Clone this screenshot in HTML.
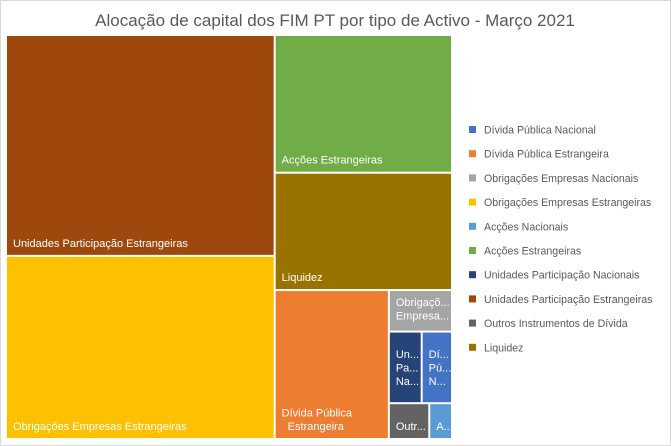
<!DOCTYPE html>
<html><head><meta charset="utf-8"><style>
body{margin:0;background:#fff}
svg{display:block;font-family:"Liberation Sans",sans-serif}
</style></head><body>
<svg id="c" width="671" height="446" viewBox="0 0 671 446">
<rect x="0.5" y="0.5" width="670" height="445" fill="#fff" stroke="#d9d9d9"/>
<text x="335" y="26" text-anchor="middle" font-size="17" fill="#595959">Alocação de capital dos FIM PT por tipo de Activo - Março 2021</text>
<g id="cells"></g><g id="legend"></g>
</svg>
<script>
const categories=["Dívida Pública Nacional","Dívida Pública Estrangeira","Obrigações Empresas Nacionais","Obrigações Empresas Estrangeiras","Acções Nacionais","Acções Estrangeiras","Unidades Participação Nacionais","Unidades Participação Estrangeiras","Outros Instrumentos de Dívida","Liquidez"];
const values=[1.2,9.4,1.45,27.2,0.45,13.5,1.3,32.8,0.8,11.5];
const colors=["#4472c4","#ed7d31","#a5a5a5","#ffc000","#5b9bd5","#70ad47","#264478","#9e480e","#636363","#997300"];
const shortLabels=[["Dí...","Pú...","N..."],["Dívida Pública","  Estrangeira"],["Obrigaçõ...","Empresa..."],["Obrigações Empresas Estrangeiras"],["A..."],["Acções Estrangeiras"],["Un...","Pa...","Na..."],["Unidades Participação Estrangeiras"],["Outr..."],["Liquidez"]];
const ns="http://www.w3.org/2000/svg";
const V=i=>values[i];
const rects={};
const tree={d:'h',k:[{d:'v',k:[7,3]},{d:'v',k:[5,9,{d:'h',k:[1,{d:'v',k:[2,{d:'h',k:[6,0]},{d:'h',k:[8,4]}]}]}]}]};
const tot=n=>typeof n==='number'?V(n):n.k.reduce((s,c)=>s+tot(c),0);
function lay(n,x,y,w,h){
  if(typeof n==='number'){rects[n]=[x,y,w,h];return;}
  const T=tot(n);let p=0;
  n.k.forEach(c=>{const f=tot(c)/T;
    if(n.d==='h'){lay(c,x+p*w,y,f*w,h);}else{lay(c,x,y+p*h,w,f*h);}p+=f;});
}
lay(tree,7,36,446,404);
const g=document.getElementById('cells');
categories.forEach((c,i)=>{
  const [x,y,w,h]=rects[i];
  const r=document.createElementNS(ns,'rect');
  r.setAttribute('x',x);r.setAttribute('y',y);r.setAttribute('width',Math.max(0,w-2));r.setAttribute('height',Math.max(0,h-2));
  r.setAttribute('fill',colors[i]);
  
  
  g.appendChild(r);
  const lines=shortLabels[i];const lh=13.5;
  let ty;
  if(lines.length===3) ty=y+(h-2)/2-lh+4;
  else if(w<70&&lines.length===2) ty=y+15;
  else ty=y+h-2-8-(lines.length-1)*lh;
  if(w<45&&lines.length===1) ty=y+h-2-8;
  lines.forEach((l,j)=>{
    const t=document.createElementNS(ns,'text');
    t.setAttribute('x',x+6+(l.startsWith('  ')?6:0));t.setAttribute('y',ty+j*lh);
    t.setAttribute('font-size','11');t.setAttribute('fill','#fff');
    t.textContent=l.trim();
    
    
    g.appendChild(t);
  });
});
const lg=document.getElementById('legend');
categories.forEach((c,i)=>{
  const y=126+i*24.2;
  const s=document.createElementNS(ns,'rect');
  s.setAttribute('x',469);s.setAttribute('y',y);s.setAttribute('width',7);s.setAttribute('height',7);s.setAttribute('fill',colors[i]);
  
  
  lg.appendChild(s);
  const t=document.createElementNS(ns,'text');
  t.setAttribute('x',484);t.setAttribute('y',y+7.5);t.setAttribute('font-size','10.6');t.setAttribute('fill','#595959');
  t.textContent=c;
  
  
  lg.appendChild(t);
});
</script>
</body></html>
